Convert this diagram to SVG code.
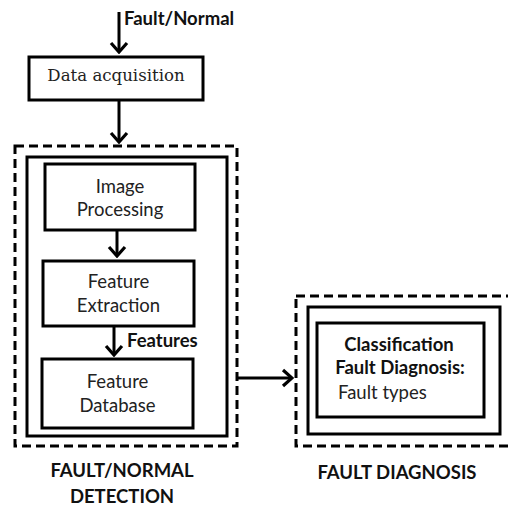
<svg xmlns="http://www.w3.org/2000/svg" width="508" height="506" viewBox="0 0 508 506">
<style>
.box{fill:#fff;stroke:#000;stroke-width:3}
.dash{fill:none;stroke:#000;stroke-width:3;stroke-dasharray:9 5}
.conn{stroke:#000;stroke-width:3;fill:none}
.t{font-family:Lato,"Liberation Sans",sans-serif;font-size:18.5px;fill:#222;text-anchor:middle}
.b{font-family:Lato,"Liberation Sans",sans-serif;font-size:18.5px;font-weight:bold;fill:#111}
.s{font-family:"DejaVu Serif","Liberation Serif",serif;font-size:16.6px;fill:#222;text-anchor:middle}
.m{text-anchor:middle}
</style>
<defs>
<marker id="ah" viewBox="-12 -10 14 20" refX="0" refY="0" markerWidth="14" markerHeight="20" markerUnits="userSpaceOnUse" orient="auto">
<path d="M-9,-8 L0,0 L-9,8" fill="none" stroke="#000" stroke-width="3.2"/>
</marker>
</defs>
<g id="detection-group">
<rect class="dash" x="15" y="146" width="222" height="300"/>
<rect class="box" x="27" y="157" width="200" height="279"/>
</g>
<g id="diagnosis-group">
<rect class="dash" x="296" y="296" width="220" height="150"/>
<rect class="box" x="308" y="307" width="192" height="127"/>
</g>
<g id="connectors">
<line class="conn" x1="119" y1="12" x2="119" y2="52" marker-end="url(#ah)"/>
<line class="conn" x1="119" y1="100" x2="119" y2="142" marker-end="url(#ah)"/>
<line class="conn" x1="117" y1="230" x2="117" y2="256" marker-end="url(#ah)"/>
<line class="conn" x1="114" y1="326" x2="114" y2="355" marker-end="url(#ah)"/>
<line class="conn" x1="237" y1="378" x2="292" y2="378" marker-end="url(#ah)"/>
</g>
<g id="data-acquisition">
<rect class="box" x="29" y="57" width="174" height="43"/>
<text class="s" x="116" y="81">Data acquisition</text>
</g>
<g id="image-processing">
<rect class="box" x="45" y="164" width="150" height="66"/>
<text class="t" x="120" y="193">Image</text>
<text class="t" x="120" y="216">Processing</text>
</g>
<g id="feature-extraction">
<rect class="box" x="43" y="261" width="151" height="65"/>
<text class="t" x="118.5" y="288">Feature</text>
<text class="t" x="118.5" y="312">Extraction</text>
</g>
<g id="feature-database">
<rect class="box" x="42" y="359" width="151" height="69"/>
<text class="t" x="117.5" y="388">Feature</text>
<text class="t" x="117.5" y="412">Database</text>
</g>
<g id="classification">
<rect class="box" x="317" y="323" width="167" height="94"/>
<text class="b m" x="399" y="351">Classification</text>
<text class="b m" x="400" y="374">Fault Diagnosis:</text>
<text class="t" x="338" y="399" style="text-anchor:start">Fault types</text>
</g>
<g id="labels">
<text class="b" x="124" y="25">Fault/Normal</text>
<text class="b" x="127" y="347">Features</text>
<text class="b m" x="122" y="477">FAULT/NORMAL</text>
<text class="b m" x="122" y="503">DETECTION</text>
<text class="b m" x="397" y="479">FAULT DIAGNOSIS</text>
</g>
</svg>
